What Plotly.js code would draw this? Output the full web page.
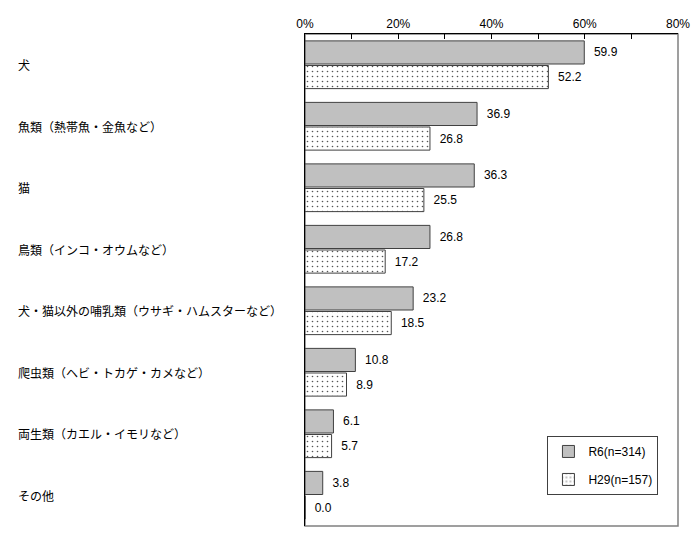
<!DOCTYPE html>
<html><head><meta charset="utf-8">
<script src="https://cdn.plot.ly/plotly-3.0.1.min.js"></script>
<style>body{margin:0;background:#fff}#c{width:700px;height:536px}</style>
</head><body><div id="c"></div>
<script>
var categories = ["犬","魚類（熱帯魚・金魚など）","猫","鳥類（インコ・オウムなど）","犬・猫以外の哺乳類（ウサギ・ハムスターなど）","爬虫類（ヘビ・トカゲ・カメなど）","両生類（カエル・イモリなど）","その他"];
var r6 = [59.9,36.9,36.3,26.8,23.2,10.8,6.1,3.8];
var h29 = [52.2,26.8,25.5,17.2,18.5,8.9,5.7,0.0];
var seriesNames = ["R6(n=314)","H29(n=157)"];
var FONT = "'Noto Sans CJK JP', 'DejaVu Sans', sans-serif";
var NUMFONT = "'Liberation Sans', Arial, sans-serif";

var traces = [
 {type:'bar', orientation:'h', name:seriesNames[0], legendgroup:'a', y:categories, x:r6,
  texttemplate:'\u00a0\u00a0%{x:.1f}', textposition:'outside', cliponaxis:false,
  textfont:{size:12,color:'#000',family:NUMFONT},
  marker:{color:'#c0c0c0', line:{color:'#404040', width:1}}},
 {type:'bar', orientation:'h', name:seriesNames[1], legendgroup:'b', y:categories, x:h29,
  texttemplate:'\u00a0\u00a0%{x:.1f}', textposition:'outside', cliponaxis:false,
  textfont:{size:12,color:'#000',family:NUMFONT},
  marker:{color:'#ffffff', line:{color:'#404040', width:1},
   pattern:{shape:'.', fgcolor:'#555555', bgcolor:'#ffffff', size:5, solidity:0.08}}}
];

var annotations = categories.map(function(c){
  return {xref:'paper', yref:'y', x:-0.776, y:c, text:c, xanchor:'left', yanchor:'middle',
    showarrow:false, font:{family:FONT, size:12, color:'#000'}};
});

var layout = {
  width:700, height:536,
  margin:{l:305, r:22, t:34, b:10},
  paper_bgcolor:'#fff', plot_bgcolor:'#fff',
  barmode:'group', bargap:0.2, bargroupgap:0.06,
  showlegend:true,
  legend:{x:0.65, y:0.183, xanchor:'left', yanchor:'top', bgcolor:'#fff',
    bordercolor:'#404040', borderwidth:1, font:{family:NUMFONT, size:12, color:'#000'},
    traceorder:'grouped', itemwidth:30, tracegroupgap:9},
  xaxis:{side:'top', range:[0,80], dtick:20, ticksuffix:'%', showgrid:false, zeroline:false,
    showline:true, linecolor:'#000', linewidth:1, ticks:'inside', ticklen:5, tickcolor:'#000',
    minor:{dtick:10, ticks:'inside', ticklen:5, tickcolor:'#000'},
    tickfont:{family:NUMFONT, size:12, color:'#000'}, fixedrange:true},
  yaxis:{autorange:'reversed', showticklabels:false, showgrid:false, zeroline:false,
    showline:true, linecolor:'#000', linewidth:1.5, ticks:'', fixedrange:true},
  shapes:[{type:'rect', xref:'x domain', yref:'y domain', x0:0, x1:1, y0:0, y1:1,
    line:{color:'#808080', width:1.5}, layer:'below'}],
  annotations:annotations
};
Plotly.newPlot('c', traces, layout, {displayModeBar:false, staticPlot:true});
</script></body></html>
